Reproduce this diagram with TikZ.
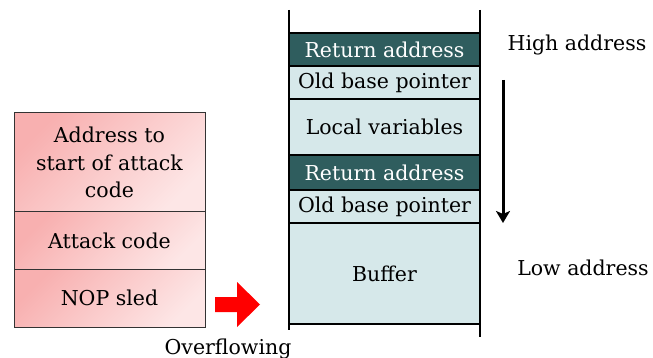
\documentclass[tikz,border=0pt]{standalone}
\usepackage{fontspec}
\setmainfont{DejaVu Serif}
\usetikzlibrary{arrows.meta}
\definecolor{stackdark}{HTML}{2F5D5E}
\definecolor{stacklight}{HTML}{D6E8EA}
\definecolor{pinkdark}{HTML}{F8B0B0}
\definecolor{pinklight}{HTML}{FDE6E6}
\tikzset{
  cell/.style={draw=black, line width=1.6pt, minimum width=191pt, inner sep=0pt,
    fill=stacklight, font=\fontsize{20.5}{24}\selectfont},
  retcell/.style={cell, fill=stackdark, text=white},
  attack/.style={draw=black!80, line width=1pt, minimum width=191pt, inner sep=0pt,
    top color=pinkdark, bottom color=pinklight, shading angle=45,
    align=center, font=\fontsize{20.5}{27.5}\selectfont},
  lbl/.style={font=\fontsize{20.5}{24}\selectfont, inner sep=0pt}
}
\begin{document}
\begin{tikzpicture}[x=1pt,y=-1pt]
\useasboundingbox (0,0) rectangle (653,358);
% stack walls
\draw[line width=2pt] (289,10) -- (289,330);
\draw[line width=2pt] (480,10) -- (480,337);
% stack frames
\node[retcell, minimum height=33pt] (ret1) at (384.5,49.5) {Return address};
\node[cell, minimum height=33pt] (base1) at (384.5,82.5) {Old base pointer};
\node[cell, minimum height=56pt] (local) at (384.5,127) {Local variables};
\node[retcell, minimum height=35pt] (ret2) at (384.5,172.5) {Return address};
\node[cell, minimum height=33pt] (base2) at (384.5,206.5) {Old base pointer};
\node[cell, minimum height=101pt] (buffer) at (384.5,273.5) {Buffer};
% address labels
\node[lbl] (high) at (577,45) {High address};
\node[lbl] (low) at (583,268) {Low address};
\coordinate (down top) at (503,80);
\coordinate (down end) at (503,223);
\draw[line width=3pt, -{Stealth[length=12pt, width=14pt, inset=3pt]}] (down top) -- (down end);
% attack payload
\node[attack, minimum height=99pt] (addr) at (109.5,162.5) {Address to\\start of attack\\code};
\node[attack, minimum height=57pt] (code) at (109.5,240.5) {Attack code};
\node[attack, minimum height=58pt] (nop) at (109.5,298) {NOP sled};
% overflow arrow
\draw[fill=red, draw=none] (215,297) -- (237,297) -- (237,282) -- (260,304.5)
  -- (237,327) -- (237,312) -- (215,312) -- cycle;
\node[lbl, anchor=base] (over) at (228,354) {Overflowing};
\end{tikzpicture}
\end{document}
